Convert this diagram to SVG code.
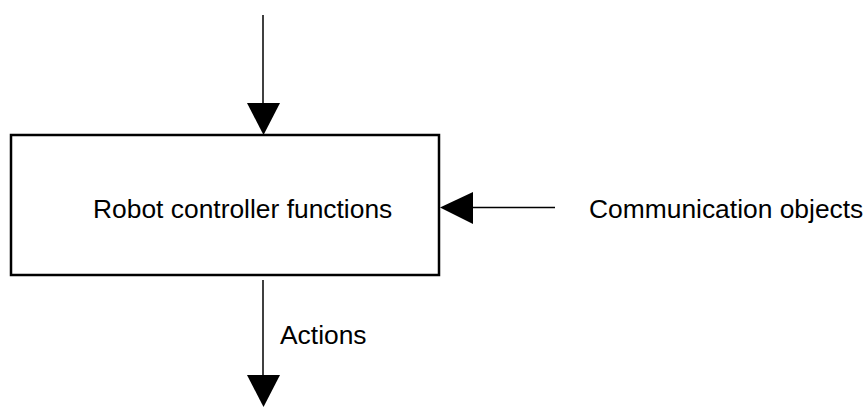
<svg xmlns="http://www.w3.org/2000/svg" width="868" height="407" viewBox="0 0 868 407">
<style>
.t{font-family:"Liberation Sans",Arial,sans-serif;font-size:26.4px;fill:#000}
.ln{stroke:#000;stroke-width:1.5;fill:none}
.box{stroke:#000;stroke-width:2.5;fill:#fff}
</style>
<rect width="868" height="407" fill="#fff"/>
<g id="node-controller">
<rect class="box" x="11" y="135" width="428" height="140"/>
<text class="t" x="93" y="218">Robot controller functions</text>
</g>
<g id="node-communication">
<text class="t" x="589" y="218">Communication objects</text>
</g>
<g id="node-actions">
<text class="t" x="280" y="344">Actions</text>
</g>
<g id="connectors">
<line class="ln" x1="263" y1="15" x2="263" y2="104"/>
<polygon points="247,103 280,103 263.5,135"/>
<line class="ln" x1="555" y1="207.5" x2="472" y2="207.5"/>
<polygon points="473,192 473,224 440,207.5"/>
<line class="ln" x1="263" y1="280" x2="263" y2="376"/>
<polygon points="247,375 280,375 263.5,407"/>
</g>
</svg>
